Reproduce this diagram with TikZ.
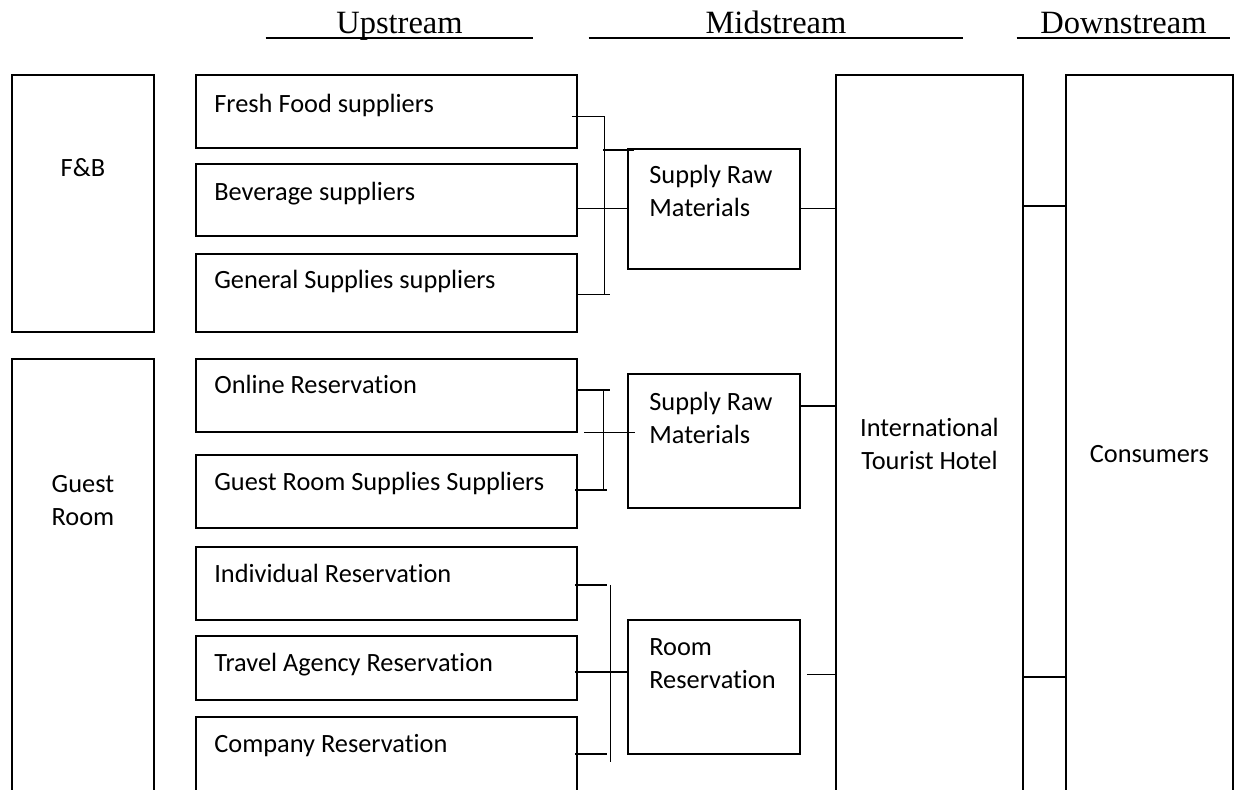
\documentclass[tikz,border=0pt]{standalone}
\usepackage{fontspec}
\setmainfont{Liberation Serif}
\newfontfamily\bodyfont[Ligatures=NoCommon]{Carlito}
\usetikzlibrary{positioning,calc}

\begin{document}
\begin{tikzpicture}[x=0.02cm, y=-0.02cm,
    box/.style={draw, line width=1.1pt, anchor=north west, inner sep=0pt},
    upbox/.style={box, minimum width=7.62cm},
    midbox/.style={box, minimum width=3.44cm},
    txt/.style={font=\bodyfont\fontsize{15}{18.7}\selectfont, inner sep=0pt},
    head/.style={font=\fontsize{18.5}{22}\selectfont, inner sep=0pt, anchor=base},
    link/.style={line width=0.6pt},
    uline/.style={line width=1.1pt}]
    \useasboundingbox (0,0) rectangle (1246,789);

    % stream headings
    \node[head, minimum width=5.34cm] (up) at (399.5,33) {Upstream};
    \node[head, minimum width=7.48cm] (mid) at (776,33) {Midstream};
    \node[head, minimum width=4.26cm] (down) at (1123.5,33) {Downstream};
    \draw[uline] ($(up.base west)+(0,5)$) -- ($(up.base east)+(0,5)$);
    \draw[uline] ($(mid.base west)+(0,5)$) -- ($(mid.base east)+(0,5)$);
    \draw[uline] ($(down.base west)+(0,5)$) -- ($(down.base east)+(0,5)$);

    % departments
    \node[box, minimum width=2.84cm, minimum height=5.14cm] (fnb) at (11,74) {};
    \node[box, minimum width=2.84cm, minimum height=8.84cm] (groom) at (11,358) {};
    \node[txt, anchor=base] (fnbtxt) at ($(fnb.north)+(0,102)$) {F\&B};
    \node[txt, anchor=north, align=center] (groomtxt) at ($(groom.north)+(0,117)$) {Guest\\Room};

    % upstream suppliers
    \node[upbox, minimum height=1.46cm] (fresh) at (195,74) {};
    \node[upbox, minimum height=1.44cm] (bev) at (195,163) {};
    \node[upbox, minimum height=1.56cm] (gen) at (195,253) {};
    \node[upbox, minimum height=1.46cm] (online) at (195,358) {};
    \node[upbox, minimum height=1.46cm] (grs) at (195,454) {};
    \node[upbox, minimum height=1.46cm] (ind) at (195,546) {};
    \node[upbox, minimum height=1.28cm] (travel) at (195,635) {};
    \node[upbox, minimum height=1.80cm] (company) at (195,716) {};
    \node[txt, anchor=base west] (freshtxt) at ($(fresh.north west)+(19,38)$) {Fresh Food suppliers};
    \node[txt, anchor=base west] (bevtxt) at ($(bev.north west)+(19,37)$) {Beverage suppliers};
    \node[txt, anchor=base west] (gentxt) at ($(gen.north west)+(19,35)$) {General Supplies suppliers};
    \node[txt, anchor=base west] (onlinetxt) at ($(online.north west)+(19,35)$) {Online Reservation};
    \node[txt, anchor=base west] (grstxt) at ($(grs.north west)+(19,36)$) {Guest Room Supplies Suppliers};
    \node[txt, anchor=base west] (indtxt) at ($(ind.north west)+(19,36)$) {Individual Reservation};
    \node[txt, anchor=base west] (traveltxt) at ($(travel.north west)+(19,36)$) {Travel Agency Reservation};
    \node[txt, anchor=base west] (companytxt) at ($(company.north west)+(19,36)$) {Company Reservation};

    % midstream
    \node[midbox, minimum height=2.40cm] (raw1) at (627,148) {};
    \node[midbox, minimum height=2.68cm] (raw2) at (627,373) {};
    \node[midbox, minimum height=2.68cm] (rr) at (627,619) {};
    \node[txt, anchor=north west, align=left] (raw1txt) at ($(raw1.north west)+(22,16.5)$) {Supply Raw\\Materials};
    \node[txt, anchor=north west, align=left] (raw2txt) at ($(raw2.north west)+(22,18.5)$) {Supply Raw\\Materials};
    \node[txt, anchor=north west, align=left] (rrtxt) at ($(rr.north west)+(22,19)$) {Room\\Reservation};

    % hotel and downstream
    \node[box, minimum width=3.74cm, minimum height=14.52cm] (hotel) at (835,74) {};
    \node[box, minimum width=3.34cm, minimum height=14.52cm] (cons) at (1065,74) {};
    \node[txt, anchor=north, align=center] (hoteltxt) at ($(hotel.north)+(0,343.5)$) {International\\Tourist Hotel};
    \node[txt, anchor=base] (constxt) at ($(cons.north)+(0,388)$) {Consumers};

    % F&B bracket
    \coordinate (b1t) at ($(fresh.east)+(27,5.5)$);
    \coordinate (b1b) at ($(gen.east)+(27,2)$);
    \draw[link] (b1t) -- (b1b);
    \draw[link] ($(fresh.east)+(-6,5.5)$) -- (b1t);
    \draw[link] ($(raw1.north west)+(-24,2)$) -- ++(31,0);
    \draw[link] (raw1.west -| bev.east) -- (raw1.west);
    \draw[link] ($(gen.east)+(0,2)$) -- ++(32,0);
    \draw[link] (raw1.east) -- (raw1.east -| hotel.west);

    % guest room supplies bracket
    \coordinate (b2t) at ($(online.east)+(26,-5.5)$);
    \coordinate (b2b) at ($(grs.east)+(26,-1.5)$);
    \draw[link] (b2t) -- (b2b);
    \draw[link] ($(online.east)+(0,-5.5)$) -- ++(32,0);
    \draw[link] ($(raw2.west)+(-43,-8)$) -- ++(51,0);
    \draw[link] ($(grs.east)+(-3,-1.5)$) -- ++(32,0);
    \draw[link] ($(raw2.north east)+(0,33)$) coordinate (r2o) -- (r2o -| hotel.west);

    % reservation bracket
    \coordinate (b3t) at ($(ind.east)+(33,1.5)$);
    \coordinate (b3b) at ($(company.east)+(33,0)$);
    \draw[link] (b3t) -- (b3b);
    \draw[link] ($(ind.east)+(-3,1.5)$) -- ++(32,0);
    \draw[link] ($(travel.east)+(-3,4)$) coordinate (tro) -- (tro -| rr.west);
    \draw[link] ($(company.east)+(-3,-8)$) -- ++(32,0);
    \draw[link] ($(rr.east)+(6,-12)$) coordinate (rro) -- (rro -| hotel.west);

    % hotel to consumers
    \draw[link] ($(hotel.north east)+(0,132)$) coordinate (hc1) -- (hc1 -| cons.west);
    \draw[link] ($(hotel.north east)+(0,603)$) coordinate (hc2) -- (hc2 -| cons.west);
\end{tikzpicture}
\end{document}
